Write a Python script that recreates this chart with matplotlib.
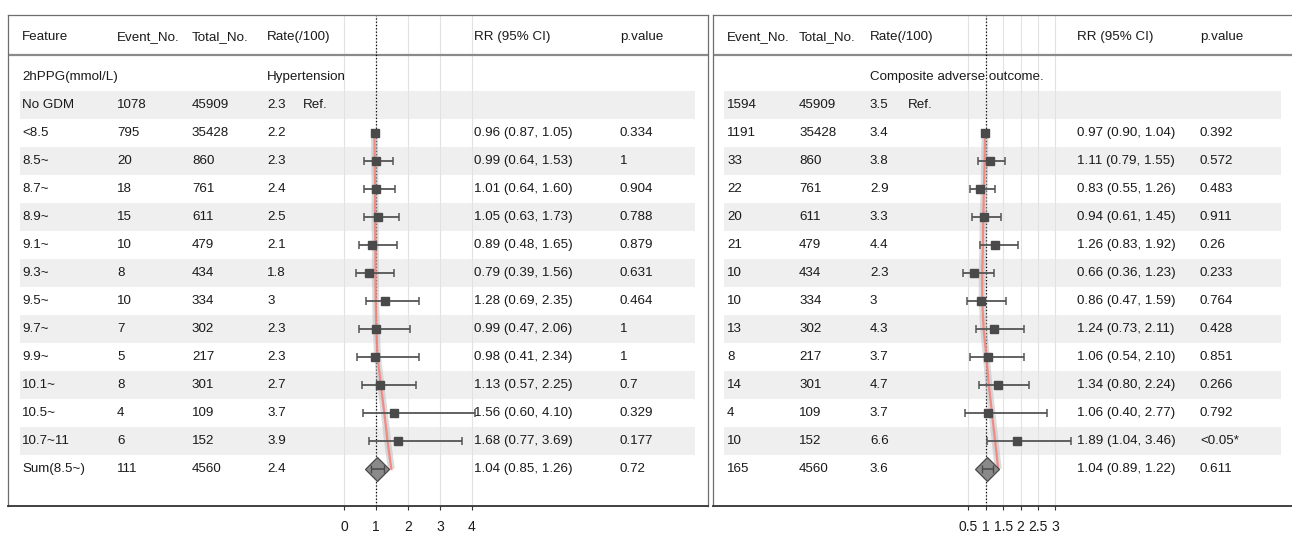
import numpy as np
import matplotlib
matplotlib.use("Agg")
import matplotlib.pyplot as plt
import matplotlib.transforms as mtransforms

plt.rcParams['font.family'] = ['Liberation Sans', 'DejaVu Sans']
plt.rcParams['font.size'] = 9.6

# rows of the table (row 0 = group title, row 1 = reference group)
features = ["2hPPG(mmol/L)", "No GDM", "<8.5", "8.5~", "8.7~", "8.9~", "9.1~", "9.3~",
            "9.5~", "9.7~", "9.9~", "10.1~", "10.5~", "10.7~11", "Sum(8.5~)"]
totals = [45909, 35428, 860, 761, 611, 479, 434, 334, 302, 217, 301, 109, 152, 4560]

# hypertension
ht_events = [1078, 795, 20, 18, 15, 10, 8, 10, 7, 5, 8, 4, 6, 111]
ht_rate = ["2.3", "2.2", "2.3", "2.4", "2.5", "2.1", "1.8", "3", "2.3", "2.3", "2.7", "3.7", "3.9", "2.4"]
ht_rr = [0.96, 0.99, 1.01, 1.05, 0.89, 0.79, 1.28, 0.99, 0.98, 1.13, 1.56, 1.68, 1.04]
ht_lo = [0.87, 0.64, 0.64, 0.63, 0.48, 0.39, 0.69, 0.47, 0.41, 0.57, 0.60, 0.77, 0.85]
ht_hi = [1.05, 1.53, 1.60, 1.73, 1.65, 1.56, 2.35, 2.06, 2.34, 2.25, 4.10, 3.69, 1.26]
ht_p = ["0.334", "1", "0.904", "0.788", "0.879", "0.631", "0.464", "1", "1", "0.7", "0.329", "0.177", "0.72"]
ht_trend = [0.95, 0.96, 0.97, 0.97, 0.98, 0.98, 0.99, 1.01, 1.05, 1.15, 1.26, 1.36, 1.48]

# composite adverse outcome
co_events = [1594, 1191, 33, 22, 20, 21, 10, 10, 13, 8, 14, 4, 10, 165]
co_rate = ["3.5", "3.4", "3.8", "2.9", "3.3", "4.4", "2.3", "3", "4.3", "3.7", "4.7", "3.7", "6.6", "3.6"]
co_rr = [0.97, 1.11, 0.83, 0.94, 1.26, 0.66, 0.86, 1.24, 1.06, 1.34, 1.06, 1.89, 1.04]
co_lo = [0.90, 0.79, 0.55, 0.61, 0.83, 0.36, 0.47, 0.73, 0.54, 0.80, 0.40, 1.04, 0.89]
co_hi = [1.04, 1.55, 1.26, 1.45, 1.92, 1.23, 1.59, 2.11, 2.10, 2.24, 2.77, 3.46, 1.22]
co_p = ["0.392", "0.572", "0.483", "0.911", "0.26", "0.233", "0.764", "0.428", "0.851", "0.266", "0.792", "<0.05*", "0.611"]
co_trend = [0.98, 0.97, 0.95, 0.93, 0.92, 0.90, 0.90, 0.94, 1.02, 1.09, 1.18, 1.27, 1.36]

ht_ticks = [0, 1, 2, 3, 4]
co_ticks = [0.5, 1, 1.5, 2, 2.5, 3]

W, H = 1292, 535
fig = plt.figure(figsize=(W / 100, H / 100), dpi=100)

TOP, BOT = 15, 506
ROW0, PITCH = 77, 28
txt = '#1a1a1a'


def panel(x0, x1, one_px, unit_px, ticks, events, rate, rr, lo, hi, pv, trend,
          title, cols, band, show_feature, right_spine=True):
    ax = fig.add_axes([x0 / W, (H - BOT) / H, (x1 - x0) / W, (BOT - TOP) / H])
    ax.set_xlim(1 + (x0 - one_px) / unit_px, 1 + (x1 - one_px) / unit_px)
    ax.set_ylim((BOT - ROW0) / PITCH, (TOP - ROW0) / PITCH)
    tr = mtransforms.blended_transform_factory(ax.transAxes, ax.transData)
    fx = lambda px: (px - x0) / (x1 - x0)

    # zebra bands
    for r in range(1, len(features), 2):
        ax.axhspan(r - 0.5, r + 0.5, xmin=fx(band[0]), xmax=fx(band[1]),
                   color='#efefef', lw=0, zorder=0)

    ax.set_xticks(ticks)
    ax.set_xticklabels([f"{t:g}" for t in ticks])
    ax.set_yticks([])
    ax.grid(axis='x', color='#e2e2e2', lw=0.8, zorder=0.5)
    ax.set_axisbelow(True)
    ax.tick_params(axis='x', length=3, width=0.8, color='#333333', pad=7,
                   labelsize=10, labelcolor=txt)
    for s in ['left', 'top', 'right']:
        ax.spines[s].set_color('#6e6e6e')
        ax.spines[s].set_linewidth(0.9)
    ax.spines['right'].set_visible(right_spine)
    ax.spines['bottom'].set_color('#333333')
    ax.spines['bottom'].set_linewidth(1.3)

    # header
    hy = (37 - ROW0) / PITCH
    sep = (55 - ROW0) / PITCH
    ax.axhline(sep, color='#8a8a8a', lw=1.6, zorder=1)
    heads = ["Event_No.", "Total_No.", "Rate(/100)", "RR (95% CI)", "p.value"]
    keys = ["ev", "tot", "rate", "rr", "p"]
    if show_feature:
        ax.text(fx(cols["feat"]), hy, "Feature", transform=tr, va='center', color=txt)
    for h, k in zip(heads, keys):
        ax.text(fx(cols[k]), hy, h, transform=tr, va='center', color=txt)

    # group title row
    if show_feature:
        ax.text(fx(cols["feat"]), 0, features[0], transform=tr, va='center', color=txt)
    ax.text(fx(cols["rate"]), 0, title, transform=tr, va='center', color=txt, zorder=4)

    # reference row and table body
    for i in range(1, len(features)):
        if show_feature:
            ax.text(fx(cols["feat"]), i, features[i], transform=tr, va='center', color=txt)
        ax.text(fx(cols["ev"]), i, str(events[i - 1]), transform=tr, va='center', color=txt)
        ax.text(fx(cols["tot"]), i, str(totals[i - 1]), transform=tr, va='center', color=txt)
        ax.text(fx(cols["rate"]), i, rate[i - 1], transform=tr, va='center', color=txt)
    ax.text(fx(cols["ref"]), 1, "Ref.", transform=tr, va='center', color=txt)
    for j in range(len(rr)):
        y = j + 2
        ax.text(fx(cols["rr"]), y, f"{rr[j]:.2f} ({lo[j]:.2f}, {hi[j]:.2f})",
                transform=tr, va='center', color=txt)
        ax.text(fx(cols["p"]), y, pv[j], transform=tr, va='center', color=txt)

    # reference line at RR = 1
    ax.axvline(1, color='black', ls=':', lw=0.9, zorder=2)

    rows = np.arange(2, 2 + len(rr))
    n = len(rr) - 1
    # trend line with its band
    ax.plot(trend, rows, color='#b8b8b8', lw=5, alpha=0.5, solid_capstyle='butt', zorder=3)
    ax.plot(trend, rows, color='#f4827c', lw=1.6, alpha=0.9, zorder=3.2)

    # subgroup estimates
    err = [np.array(rr[:n]) - np.array(lo[:n]), np.array(hi[:n]) - np.array(rr[:n])]
    ax.errorbar(rr[:n], rows[:n], xerr=err, fmt='none', ecolor='#555555',
                elinewidth=1.3, capsize=3, capthick=1.1, zorder=4)
    ax.plot(rr[:n], rows[:n], 's', color='#4a4a4a', ms=6.4, zorder=5)

    # pooled estimate
    ax.plot(rr[n], rows[n], 'D', ms=12.5, mfc='#8a8a8a', mec='#4a4a4a', mew=0.9, zorder=5)
    ax.errorbar(rr[n], rows[n], xerr=[[rr[n] - lo[n]], [hi[n] - rr[n]]], fmt='none',
                ecolor='#4a4a4a', elinewidth=1.1, capsize=3, capthick=1.0, zorder=6)
    return ax


left_cols = {"feat": 22, "ev": 117, "tot": 192, "rate": 267, "ref": 303, "rr": 474, "p": 620}
right_cols = {"ev": 727, "tot": 799, "rate": 870, "ref": 908, "rr": 1077, "p": 1200}

panel(8, 708, 376, 32.0, ht_ticks, ht_events, ht_rate, ht_rr, ht_lo, ht_hi, ht_p,
      ht_trend, "Hypertension", left_cols, (20, 695), True)
panel(713, 1296, 985.7, 34.8, co_ticks, co_events, co_rate, co_rr, co_lo, co_hi, co_p,
      co_trend, "Composite adverse outcome.", right_cols, (724, 1281), False)

fig.savefig("out.png", dpi=100)
